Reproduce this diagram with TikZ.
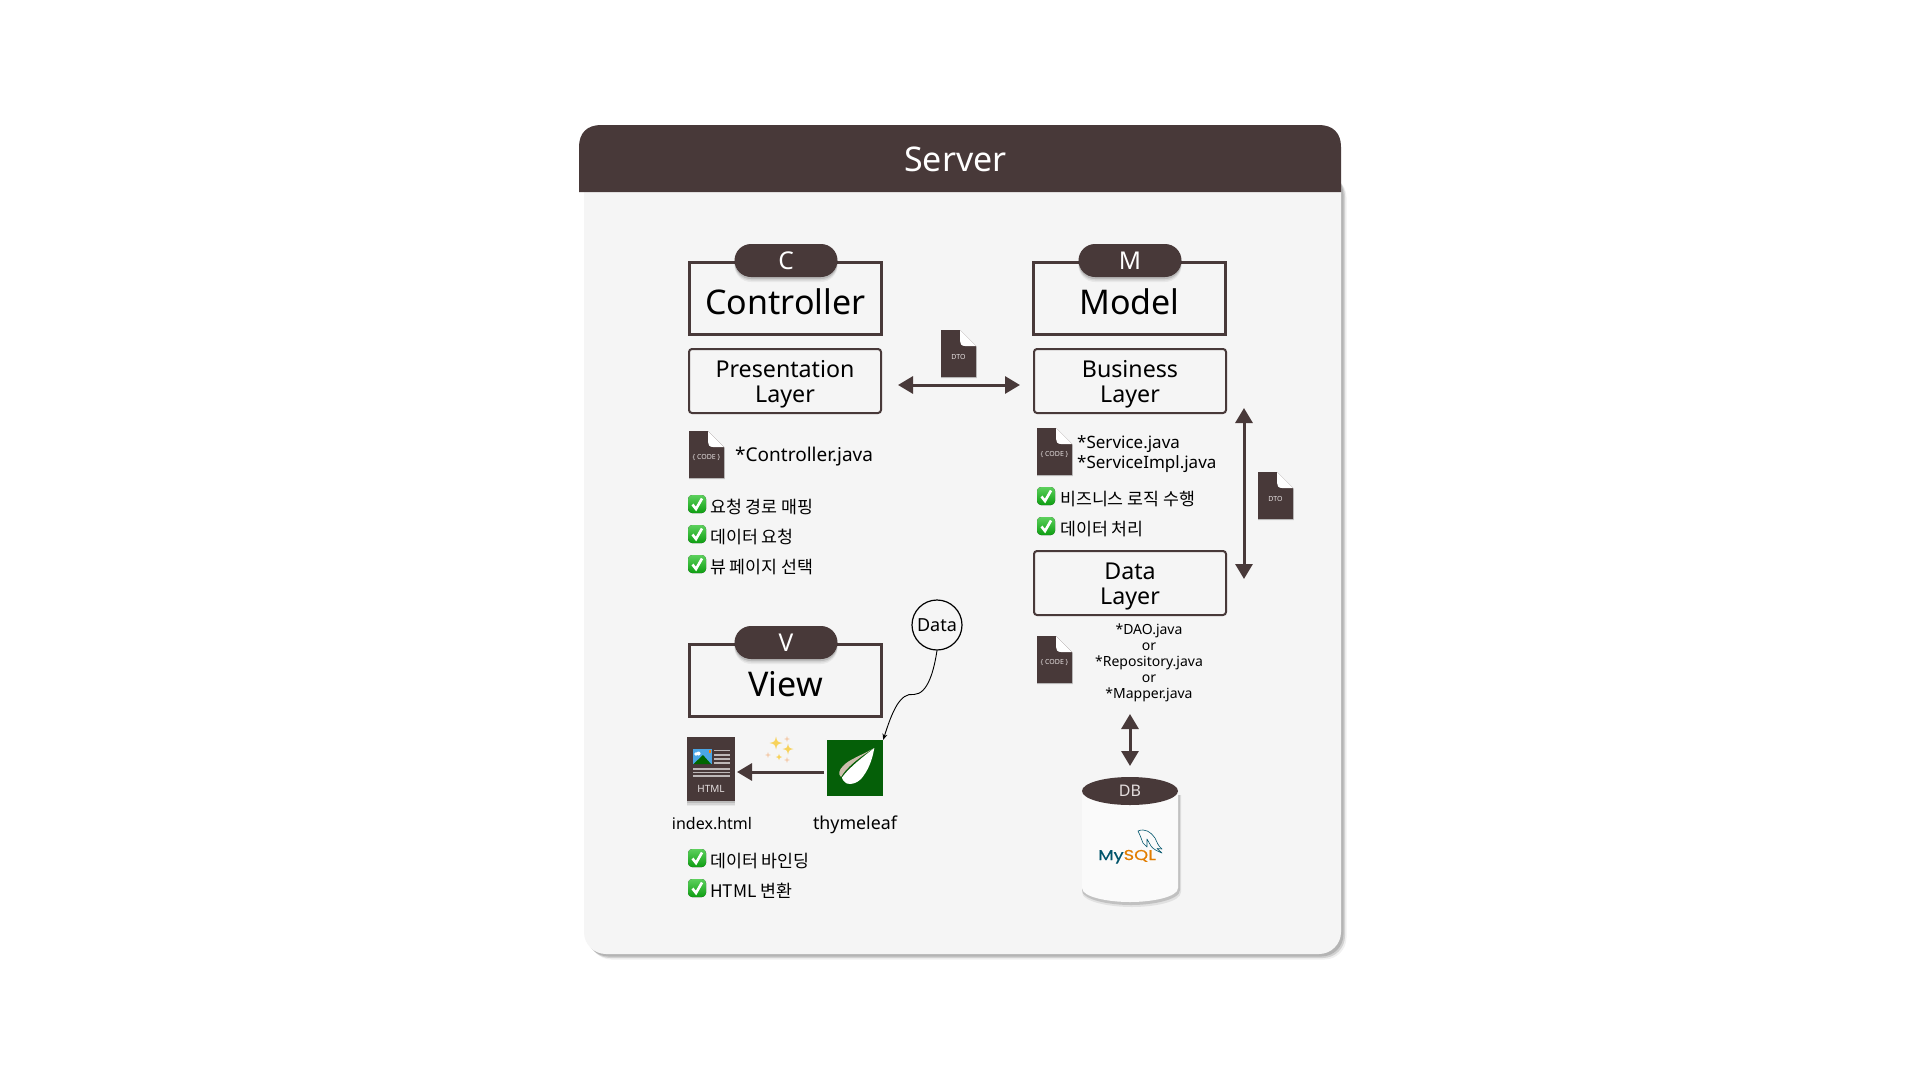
\documentclass[tikz,border=0pt]{standalone}
\usepackage{fontspec}
\setmainfont{Noto Sans}
\newfontfamily\kr{Noto Sans CJK KR}
\newfontfamily\logofont[FakeBold=0.5,FakeStretch=1.25]{Poppins}
\usetikzlibrary{arrows.meta,shapes.misc,shapes.geometric,shadows}
\definecolor{dark}{HTML}{483939}
\definecolor{panelbg}{HTML}{F5F5F5}
\definecolor{lighttxt}{HTML}{E4DEDE}
\definecolor{leafgreen}{HTML}{055F08}
\definecolor{checktop}{HTML}{5CD05C}
\definecolor{checkbot}{HTML}{0E9E12}
\definecolor{htmlline}{HTML}{BDB8B8}
\definecolor{goldstar}{HTML}{F7D25A}
\definecolor{pinkstar}{HTML}{F3C9A8}
\definecolor{skyblue}{HTML}{4BA6E6}
\newcommand{\fs}[1]{\fontsize{#1}{#1}\selectfont}
\tikzset{
  x=1pt,y=-1pt,
  softshadow/.style={
    general shadow={shadow xshift=0pt,shadow yshift=-5pt,fill=black,opacity=.05},
    general shadow={shadow xshift=0pt,shadow yshift=-3.5pt,fill=black,opacity=.08},
    general shadow={shadow xshift=0pt,shadow yshift=-2pt,fill=black,opacity=.12}},
  panelshadow/.style={
    general shadow={shadow xshift=5.5pt,shadow yshift=-5.5pt,fill=black,opacity=.06},
    general shadow={shadow xshift=4pt,shadow yshift=-4pt,fill=black,opacity=.12},
    general shadow={shadow xshift=2.5pt,shadow yshift=-2.5pt,fill=black,opacity=.14}},
  titlebox/.style={draw=dark,line width=3pt,fill=none,minimum width=192pt,minimum height=72pt,inner sep=0pt},
  layerbox/.style={draw=dark,line width=2pt,rounded corners=3pt,minimum width=192pt,minimum height=64pt,inner sep=0pt},
  layertxt/.style={inner sep=0pt,align=center,font=\fontsize{23.2}{25}\selectfont},
  pillbox/.style={rounded rectangle,fill=dark,text=white,minimum width=103pt,minimum height=33pt,inner sep=0pt,font=\fs{24.5},softshadow},
  bigtxt/.style={inner sep=0pt,anchor=base,font=\fs{34}},
  item/.style={inner sep=0pt,anchor=base west,font=\kr\fs{17.3}},
  filetxt/.style={inner sep=0pt,font=\fs{19}},
  arrowline/.style={draw=dark,line width=3pt,{Triangle[length=15pt,width=17pt]}-{Triangle[length=15pt,width=17pt]}},
  docicon/.pic={
    \fill[black,opacity=.18] (0,1) -- (19,1) -- (35.8,17) -- (35.8,48) -- (0,48) -- cycle;
    \fill[dark] (0,0) -- (19,0) -- (35,16) -- (35,47) -- (0,47) -- cycle;
    \fill[white] (19,0) -- (35,16) -- (24,16) .. controls (20.5,16) and (19,14) .. (19,11) -- cycle;
    \node[inner sep=0pt,text=lighttxt,font=\fs{7}] (-label) at (17.5,27) {\tikzpictext};
  },
  checkbox/.pic={
    \fill[top color=checktop,bottom color=checkbot,rounded corners=4pt,draw=none] (0,0) rectangle (18,18);
    \draw[white,line width=2.6pt] (4.5,9.5) -- (8,14) -- (14,3.5);
  },
}
\newcommand{\spark}[4]{\fill[#4] (#1-#3,#2) .. controls (#1-0.18*#3,#2-0.18*#3) .. (#1,#2-#3) .. controls (#1+0.18*#3,#2-0.18*#3) .. (#1+#3,#2) .. controls (#1+0.18*#3,#2+0.18*#3) .. (#1,#2+#3) .. controls (#1-0.18*#3,#2+0.18*#3) .. (#1-#3,#2) -- cycle;}
\begin{document}
\begin{tikzpicture}
\useasboundingbox (0,0) rectangle (1920,1080);
\fill[white] (0,0) rectangle (1920,1080);
% panel
\node[name=panel,fill=panelbg,rounded corners=22pt,minimum width=757pt,minimum height=784pt,inner sep=0pt,panelshadow] at (962.5,562) {};
\fill[dark] (579,192) -- (579,147) .. controls (579,133) and (587,125) .. (601,125) -- (1319,125) .. controls (1333,125) and (1341,133) .. (1341,147) -- (1341,192) -- cycle;
\node[inner sep=0pt,text=white,font=\fs{34}] (title) at (955.5,159) {Server};
% controller
\node[titlebox] (ctrlbox) at (785.5,298.5) {};
\node[pillbox] (cpill) at (786,260.5) {C};
\node[bigtxt] (ctrltxt) at (785.5,314) {Controller};
\node[layerbox] (present) at (785,381) {};
\node[layertxt] (presenttxt) at (785,384) {Presentation\\Layer};
% model
\node[titlebox] (modelbox) at (1129.5,298.5) {};
\node[pillbox] (mpill) at (1130,260.5) {M};
\node[bigtxt] (modeltxt) at (1129.5,314) {Model};
\node[layerbox] (business) at (1130,381) {};
\node[layertxt] (businesstxt) at (1130,384) {Business\\Layer};
% DTO arrow
\pic[pic text=DTO] (dto1) at (941,330) {docicon};
\coordinate (dtoL) at (898,385);
\coordinate (dtoR) at (1020,385);
\draw[arrowline] (dtoL) -- (dtoR);
% controller list
\pic[pic text={\{ CODE \}}] (code1) at (689,431) {docicon};
\node[filetxt,anchor=base west] (ctrlfile) at (735,461) {*Controller.java};
\pic at (688,495) {checkbox};
\node[item] (c1) at (710,513) {요청 경로 매핑};
\pic at (688,525) {checkbox};
\node[item] (c2) at (710,543) {데이터 요청};
\pic at (688,555) {checkbox};
\node[item] (c3) at (710,573) {뷰 페이지 선택};
% service
\pic[pic text={\{ CODE \}}] (code2) at (1037,428) {docicon};
\node[filetxt,anchor=west,align=left,font=\fontsize{17}{19.5}\selectfont] (svcfile) at (1077,454) {*Service.java\\*ServiceImpl.java};
\pic at (1037,487) {checkbox};
\node[item] (s1) at (1060,505) {비즈니스 로직 수행};
\pic at (1037,517) {checkbox};
\node[item] (s2) at (1060,535) {데이터 처리};
% vertical arrow
\coordinate (vT) at (1244,408);
\coordinate (vB) at (1244,579);
\draw[arrowline] (vT) -- (vB);
\pic[pic text=DTO] (dto2) at (1258,472) {docicon};
% data layer
\node[layerbox] (datalayer) at (1130,583) {};
\node[layertxt] (datalayertxt) at (1130,586) {Data\\Layer};
\pic[pic text={\{ CODE \}}] (code3) at (1037,636) {docicon};
\node[filetxt,align=center,font=\fontsize{14}{16}\selectfont] (daofile) at (1149,663) {*DAO.java\\or\\*Repository.java\\or\\*Mapper.java};
\coordinate (dbT) at (1130,714);
\coordinate (dbB) at (1130,766);
\draw[arrowline] (dbT) -- (dbB);
% DB
\fill[black,opacity=.08] (1082,795) -- (1082,892) .. controls (1082,902) and (1110,907) .. (1132,907) .. controls (1154,907) and (1181,902) .. (1181,892) -- (1181,795) -- cycle;
\fill[black,opacity=.14] (1082,795) -- (1082,890) .. controls (1082,900) and (1110,905) .. (1131,905) .. controls (1152,905) and (1180,900) .. (1180,890) -- (1180,795) -- cycle;
\fill[white!98!black] (1082,791) -- (1082,888) .. controls (1082,897) and (1108,902) .. (1130,902) .. controls (1152,902) and (1178,897) .. (1178,888) -- (1178,791) -- cycle;
\node[ellipse,fill=dark,text=lighttxt,minimum width=96pt,minimum height=28pt,inner sep=0pt,font=\fs{16}] (dbtop) at (1130,791) {DB};
\node[inner sep=0pt,anchor=base west,font=\logofont\fs{14.3}] (mysql) at (1098,860) {\textcolor[HTML]{00546B}{My}\textcolor[HTML]{E27D00}{SQL}};
\draw[color={rgb,255:red,0;green,84;blue,107},line width=.6pt,line join=round] (1138,831) .. controls (1145,828) and (1151,832) .. (1155,838) .. controls (1157,842) and (1158,846) .. (1162,849) -- (1157,848.5) -- (1162,853) .. controls (1157,851) and (1153,849) .. (1151,846) -- (1147,839) -- (1147,847) -- (1143,843) .. controls (1141,838) and (1140,835) .. (1138,831) -- cycle;
% view
\node[titlebox] (viewbox) at (785,680) {};
\node[pillbox] (vpill) at (786,642.5) {V};
\node[bigtxt] (viewtxt) at (785.5,696.5) {View};
\node[draw=black,line width=1.2pt,circle,minimum size=50pt,inner sep=0pt,fill=panelbg,font=\fs{18}] (datac) at (937,625) {Data};
% html doc
\node[fill=dark,minimum width=48pt,minimum height=64pt,inner sep=0pt,softshadow] (htmldoc) at (711,769) {};
\fill[skyblue] (692.5,749) rectangle (712,764);
\fill[white] (696,754) circle (1.8pt) (698.5,753.5) circle (2pt);
\fill[orange] (708.5,750) rectangle (711,753);
\fill[green!40!black] (693.5,764) -- (703,755) -- (711,764) -- cycle;
\foreach \yy in {749.5,754,758,762}{\fill[htmlline] (714,\yy) rectangle (730,\yy+1.6);}
\foreach \yy in {768,771.5,775}{\fill[htmlline] (693,\yy) rectangle (730,\yy+1.6);}
\node[inner sep=0pt,text=lighttxt,font=\fs{10}] (htmltxt) at (711,789) {HTML};
% thymeleaf
\node[fill=leafgreen,minimum size=56pt,inner sep=0pt] (thyme) at (855,768) {};
\fill[white!65!brown!75!gray] (874.3,748) .. controls (860,756) and (848,760) .. (843,766) .. controls (839,770) and (838,774) .. (841,777) .. controls (846,768) and (858,758) .. (874.3,748) -- cycle;
\fill[white] (874.3,748) .. controls (872,762) and (867,772) .. (861,779) .. controls (857,783) and (851,785) .. (847,783.5) .. controls (844,782) and (842,779) .. (842,777.5) .. controls (847,770) and (860,759) .. (874.3,748) -- cycle;
\coordinate (thymeL) at (824,772);
\coordinate (htmlR) at (737,772);
\draw[draw=dark,line width=3pt,-{Triangle[length=15pt,width=17pt]}] (thymeL) -- (htmlR);
\spark{776}{743}{6.5}{goldstar}
\spark{788}{749}{5.5}{goldstar}
\spark{779}{757}{3.2}{goldstar}
\spark{787}{739}{2.8}{pinkstar}
\spark{768}{755}{2.8}{pinkstar}
\spark{787}{760}{2.8}{pinkstar}
% data curve
\draw[black,line width=.9pt,-{Stealth[length=6pt,width=5pt]}] (datac.south) .. controls (934,670) and (928,694) .. (914,694.5) .. controls (900,692) and (892,712) .. (thyme.north east);
\node[inner sep=0pt,anchor=base,font=\fs{16}] (indextxt) at (712,829) {index.html};
\node[inner sep=0pt,anchor=base,font=\fs{17.8}] (thymetxt) at (855,829) {thymeleaf};
\pic at (688,849) {checkbox};
\node[item] (v1) at (710,867) {데이터 바인딩};
\pic at (688,879) {checkbox};
\node[item] (v2) at (710,897) {HTML 변환};
\end{tikzpicture}
\end{document}
